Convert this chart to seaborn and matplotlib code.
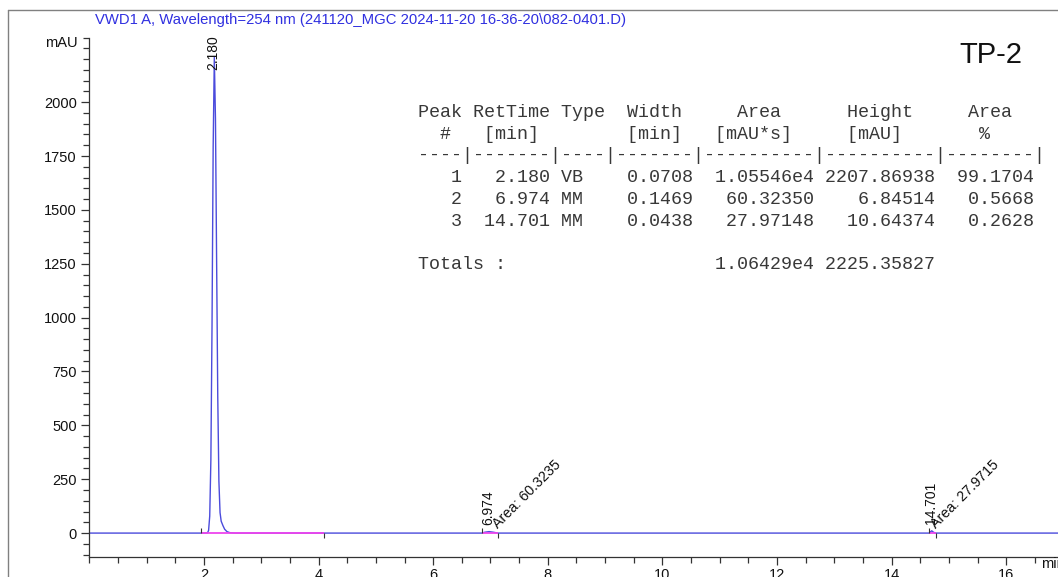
import matplotlib
matplotlib.use("Agg")
import matplotlib.pyplot as plt
from matplotlib.lines import Line2D
from matplotlib.ticker import FixedLocator, MultipleLocator
import seaborn as sns
import pandas as pd

# ---- chromatogram trace (time in min, signal in mAU) ----
trace_time = [0.0, 1.95, 2.04, 2.06, 2.08, 2.10, 2.12, 2.14, 2.16, 2.18,
              2.20, 2.22, 2.24, 2.26, 2.28, 2.30, 2.33, 2.36, 2.40, 2.45,
              2.55, 6.85, 6.90, 6.974, 7.05, 7.13, 14.66, 14.68, 14.701,
              14.72, 14.76, 18.0]
trace_mau = [0, 0, 0.5, 1, 12, 79, 340, 960, 1793, 2207.87,
             1923, 1269, 635, 241, 95, 55, 35, 18, 7, 2,
             0, 0, 4, 6.85, 4, 0, 0, 6, 10.64,
             6, 0, 0]

# ---- integration results ----
peak_num = [1, 2, 3]
ret_time = [2.180, 6.974, 14.701]
peak_type = ["VB", "MM", "MM"]
peak_width = [0.0708, 0.1469, 0.0438]
peak_area = [1.05546e4, 60.32350, 27.97148]
peak_height = [2207.86938, 6.84514, 10.64374]
area_pct = [99.1704, 0.5668, 0.2628]
total_area = 1.06429e4
total_height = 2225.35827
area_label = ["", "Area: 60.3235", "Area: 27.9715"]
int_start = [1.94, 6.85, 14.66]
int_end = [4.10, 7.13, 14.77]

title = "VWD1 A, Wavelength=254 nm (241120_MGC 2024-11-20 16-36-20\\082-0401.D)"
sample = "TP-2"
x_major = [2, 4, 6, 8, 10, 12, 14, 16]
y_major = [0, 250, 500, 750, 1000, 1250, 1500, 1750, 2000]

sns.set_style("ticks")
plt.rcParams["font.family"] = ["Liberation Sans", "DejaVu Sans"]

W, H = 1058, 577
fig = plt.figure(figsize=(W / 100, H / 100), dpi=100)
fig.patch.set_facecolor("white")


def fx(px):
    return px / W


def fy(py):
    return 1 - py / H


# plot area (extends past the right edge of the page)
ax = fig.add_axes([fx(89.4), fy(557), fx(1120.8 - 89.4), (557 - 37.5) / H])
ax.set_facecolor("white")

df = pd.DataFrame({"time": trace_time, "signal": trace_mau})
sns.lineplot(data=df, x="time", y="signal", ax=ax, color="#4b4bdc",
             linewidth=1.0, estimator=None, sort=False, clip_on=False)

# integration baselines and their start/end markers
for s, e in zip(int_start, int_end):
    ax.plot([s, e], [0, 0], color="#ee44ee", linewidth=1.3, zorder=3,
            solid_capstyle="butt")
    ax.vlines(s, 0, 23, color="#333333", linewidth=0.8, zorder=4)
    ax.vlines(e, -23, 0, color="#333333", linewidth=0.8, zorder=4)

ax.set_xlim(0, 18)
ax.set_ylim(-111, 2300)
ax.xaxis.set_major_locator(FixedLocator(x_major))
ax.xaxis.set_minor_locator(MultipleLocator(0.5))
ax.yaxis.set_major_locator(FixedLocator(y_major))
ax.yaxis.set_minor_locator(MultipleLocator(50))
ax.tick_params(axis="both", which="major", length=6, width=0.9,
               color="#333333", labelsize=10.5, labelcolor="#111111")
ax.tick_params(axis="both", which="minor", length=4, width=0.9, color="#333333")
ax.tick_params(axis="x", which="major", pad=2)
ax.tick_params(axis="y", which="major", pad=3)
ax.set_xlabel("")
ax.set_ylabel("")
sns.despine(ax=ax)
for sp in ("left", "bottom"):
    ax.spines[sp].set_color("#333333")
    ax.spines[sp].set_linewidth(0.9)

ax.text(-0.2, 2273, "mAU", ha="right", va="center", fontsize=10.5, color="#111111")
ax.text(16.6, -111, "min", ha="left", va="top", fontsize=10.5, color="#111111",
        transform=ax.transData)

# peak annotations
for rt, h, lab, e in zip(ret_time, peak_height, area_label, int_end):
    y_lab = min(h + 30, 2147)
    ax.text(rt - 0.02, y_lab, f"{rt:.3f}", rotation=90, rotation_mode="anchor",
            ha="left", va="center", fontsize=10, color="#111111")
    if lab:
        ax.text(e, 20, lab, rotation=45, rotation_mode="anchor",
                ha="left", va="baseline", fontsize=10.3, color="#111111")

# page frame
frame_kw = dict(transform=fig.transFigure, color="#808080", linewidth=1.0)
fig.add_artist(Line2D([fx(8), 1.0], [fy(10), fy(10)], **frame_kw))
fig.add_artist(Line2D([fx(8), fx(8)], [fy(10), 0.0], **frame_kw))

fig.text(fx(95), fy(24), title, ha="left", va="baseline", fontsize=10.7,
         color="#3030e0")
fig.text(fx(1022), fy(63), sample, ha="right", va="baseline", fontsize=21,
         color="#111111")


# integration report table
def fmt_area(v):
    if v >= 1e4:
        exp = len(str(int(v))) - 1
        return f"{v / 10 ** exp:.5f}e{exp}"
    return f"{v:.5f}"


lines = [
    "Peak RetTime Type  Width     Area      Height     Area  ",
    "  #   [min]        [min]   [mAU*s]     [mAU]       %    ",
    "----|-------|----|-------|----------|----------|--------|",
]
for n, rt, t, w, a, h, p in zip(peak_num, ret_time, peak_type, peak_width,
                                peak_area, peak_height, area_pct):
    lines.append(f"{n:4d} {rt:7.3f} {t:<4s} {w:7.4f} {fmt_area(a):>10s} "
                 f"{h:10.5f} {p:8.4f}")
lines.append("")
lines.append(f"{'Totals :':<26s}{fmt_area(total_area):>10s} {total_height:10.5f}")

for i, line in enumerate(lines):
    if line:
        fig.text(fx(418), fy(117 + 21.7 * i), line, ha="left", va="baseline",
                 family=["Liberation Mono", "DejaVu Sans Mono"], fontsize=13.26,
                 color="#383838")

fig.savefig("out.png", dpi=100, facecolor="white")
